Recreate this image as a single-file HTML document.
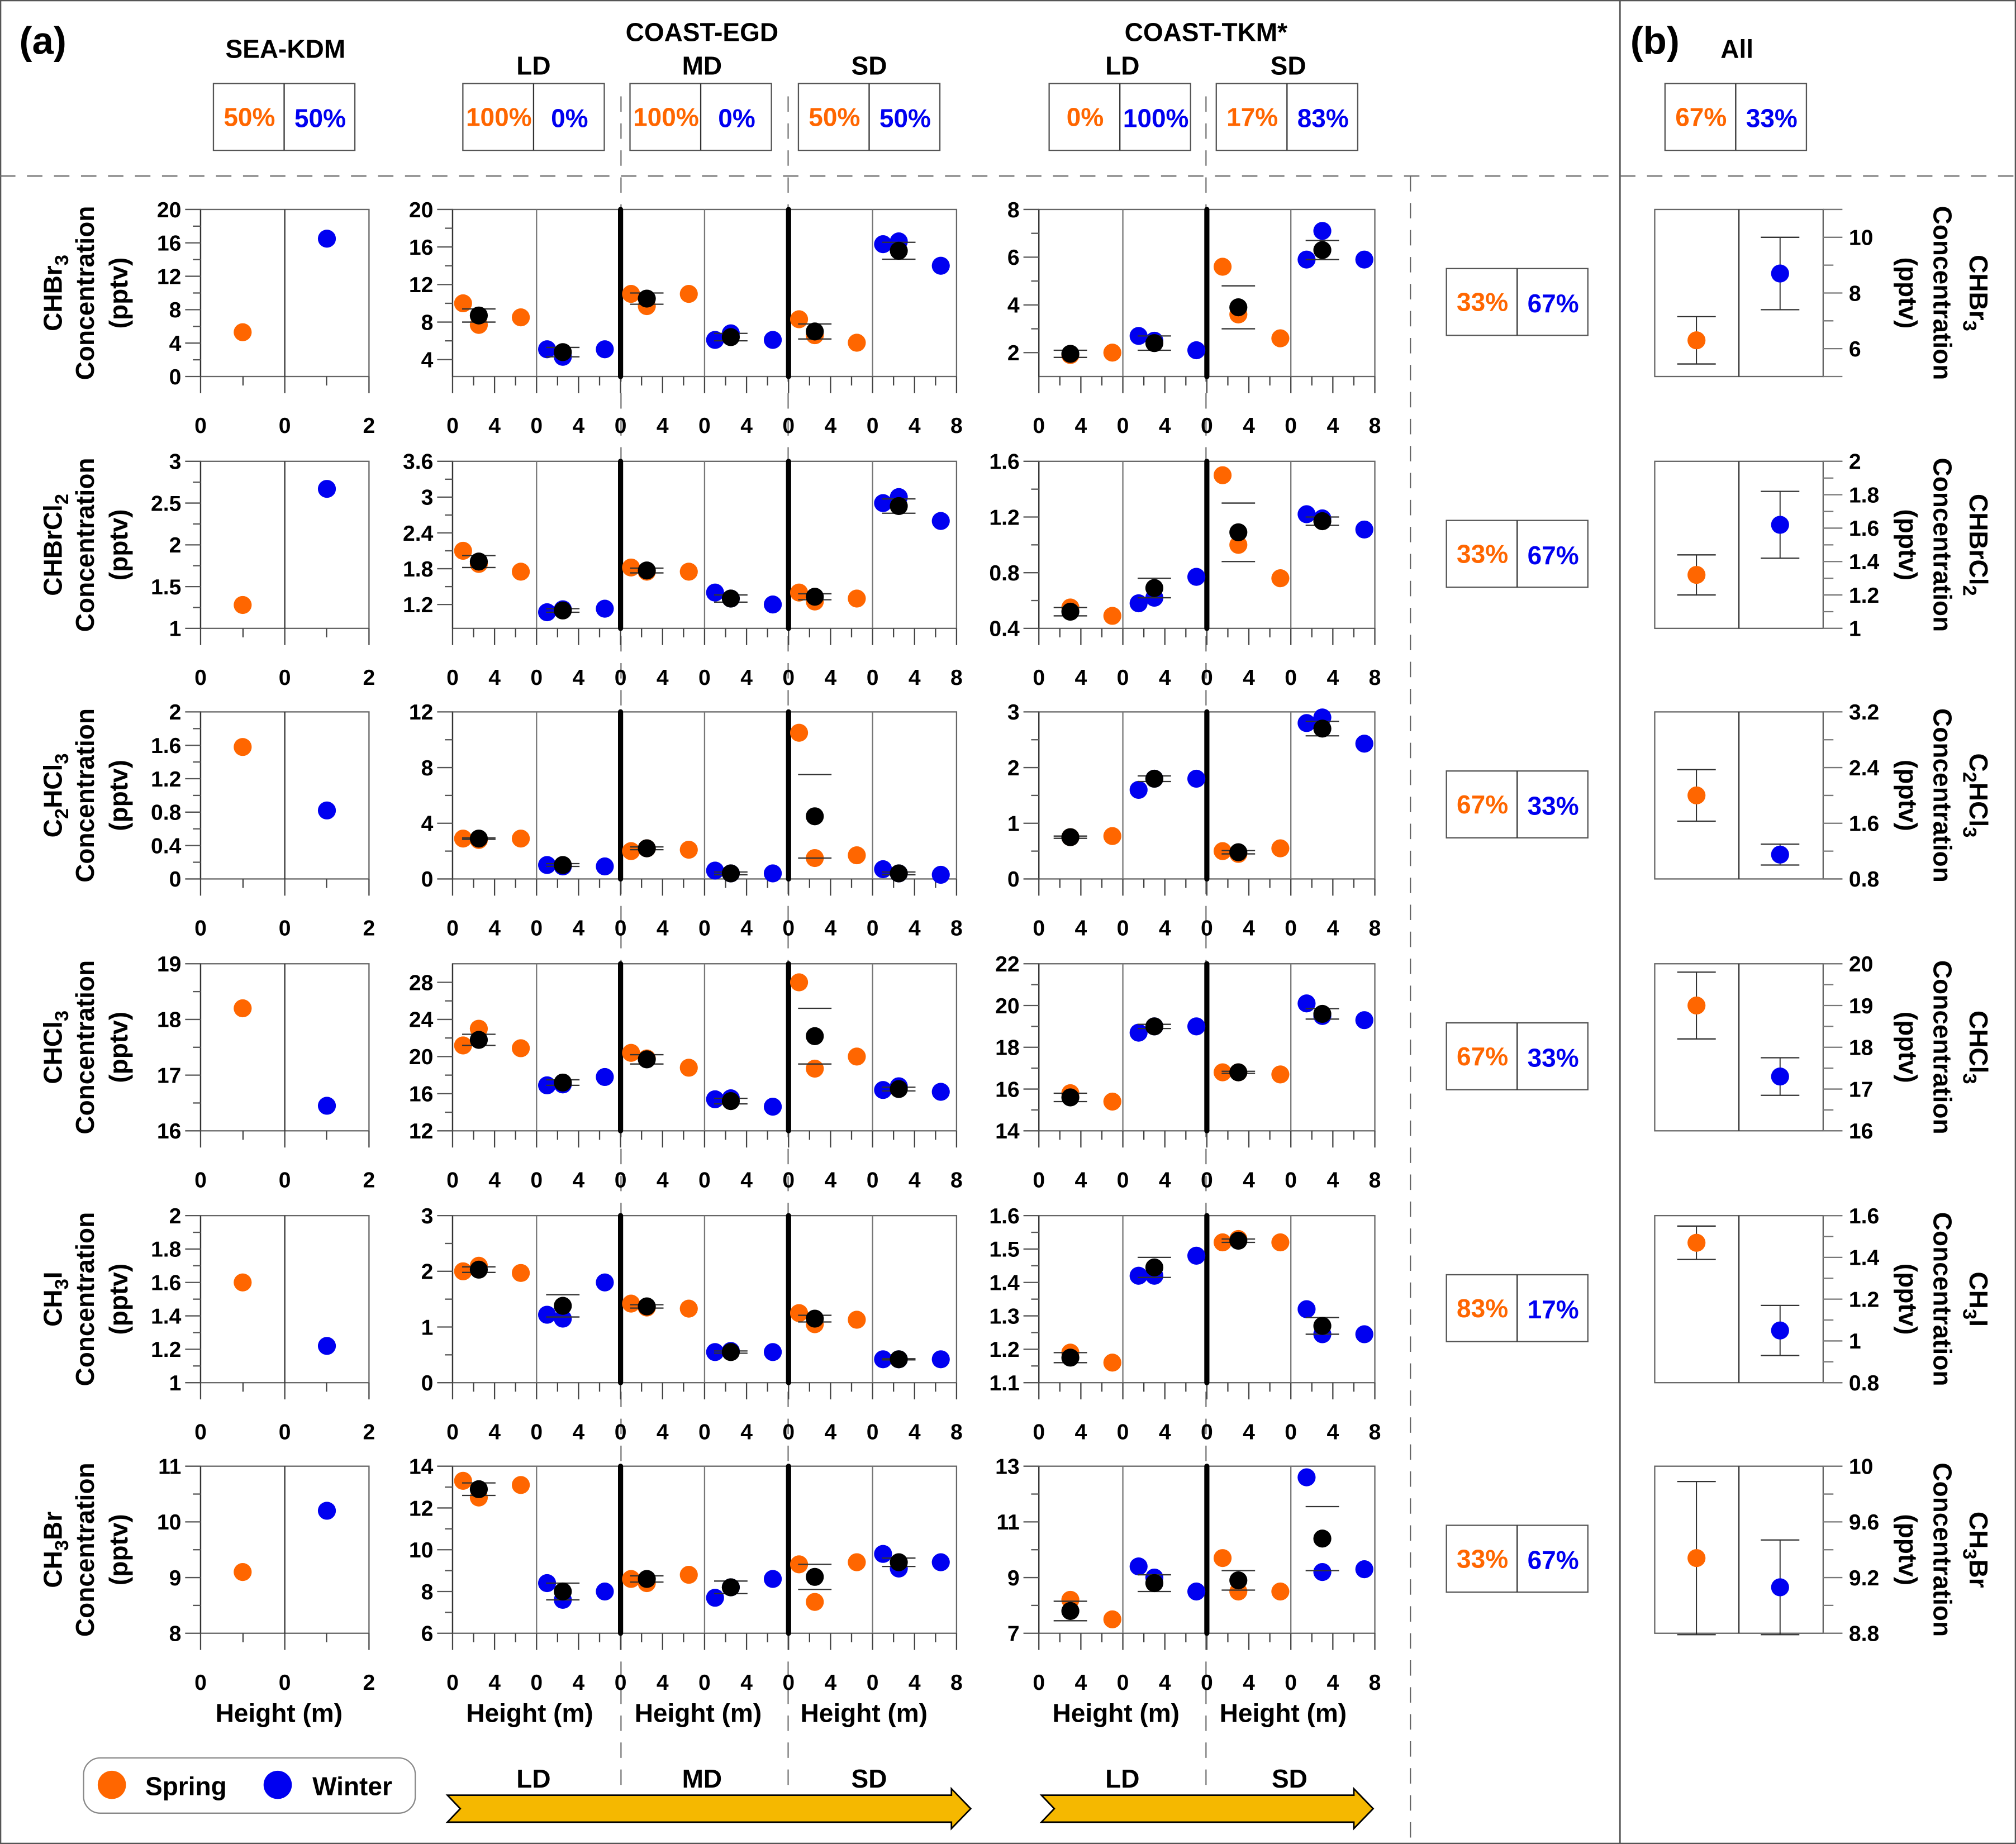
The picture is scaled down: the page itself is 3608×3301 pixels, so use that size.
<!DOCTYPE html>
<html><head><meta charset="utf-8">
<style>
html,body{margin:0;padding:0;background:#fff;}
svg{display:block;font-family:"Liberation Sans",Arial,sans-serif;font-weight:bold;}
</style></head>
<body>
<svg id="fig" width="3608" height="3301" viewBox="0 0 1568 1435" preserveAspectRatio="none" xmlns="http://www.w3.org/2000/svg">
<rect x="0.5" y="0.5" width="1567" height="1434" fill="#fff" stroke="#555" stroke-width="1"/>
<g id="guides"></g>
<g id="header"></g>
<g id="plots"></g>
<g id="bottom"></g>
</svg>
<script>
// ---------- data ----------
const rowNames = ['CHBr3','CHBrCl2','C2HCl3','CHCl3','CH3I','CH3Br'];
const seaSpring = [5.3,1.28,1.58,18.2,1.6,9.1];
const seaWinter = [16.5,2.67,0.82,16.45,1.22,10.2];
const seaRange = [[0,20],[1,3],[0,2],[16,19],[1,2],[8,11]];
const seaTicks = [[0,4,8,12,16,20],[1,1.5,2,2.5,3],[0,0.4,0.8,1.2,1.6,2],[16,17,18,19],[1,1.2,1.4,1.6,1.8,2],[8,9,10,11]];
// EGD sub-panels: LD-spring, LD-winter, MD-spring, MD-winter, SD-spring, SD-winter; heights 1, 2.5, 6.5 m
const egdHeights = [1,2.5,6.5];
const egdVals = [
 [[10,7.7,8.5],[5.1,4.3,5.1],[11,9.7,11],[6.1,6.8,6.1],[8.3,6.6,5.8],[16.3,16.6,14]],
 [[2.1,1.88,1.75],[1.07,1.12,1.13],[1.82,1.75,1.75],[1.4,1.3,1.2],[1.4,1.25,1.3],[2.9,3.0,2.6]],
 [[2.9,2.8,2.9],[1.0,0.9,0.9],[2.0,2.2,2.1],[0.6,0.4,0.4],[10.5,1.5,1.7],[0.7,0.4,0.3]],
 [[21.2,23,20.9],[16.9,17.0,17.8],[20.4,19.8,18.8],[15.4,15.5,14.6],[28,18.7,20],[16.4,16.8,16.2]],
 [[2.0,2.1,1.97],[1.22,1.15,1.8],[1.42,1.35,1.33],[0.55,0.57,0.55],[1.25,1.05,1.13],[0.42,0.42,0.42]],
 [[13.3,12.5,13.1],[8.4,7.6,8.0],[8.6,8.4,8.8],[7.7,8.2,8.6],[9.3,7.5,9.4],[9.8,9.1,9.4]]
];
const egdMean = [[8.7,4.8,10.5,6.4,7.0,15.6],[1.92,1.1,1.77,1.3,1.33,2.85],[2.9,1.0,2.2,0.4,4.5,0.4],[21.8,17.2,19.7,15.2,22.2,16.5],[2.03,1.38,1.37,0.55,1.15,0.42],[12.9,8.0,8.6,8.2,8.7,9.4]];
const egdErr = [[0.7,0.5,0.6,0.4,0.8,0.9],[0.1,0.03,0.04,0.06,0.05,0.12],[0.05,0.1,0.1,0.1,3.0,0.1],[0.6,0.3,0.5,0.3,3.0,0.2],[0.05,0.2,0.03,0.02,0.06,0.01],[0.3,0.4,0.15,0.3,0.6,0.2]];
const egdRange = [[2.2,20],[0.8,3.6],[0,12],[12,30],[0,3],[6,14]];
const egdTicks = [[4,8,12,16,20],[1.2,1.8,2.4,3,3.6],[0,4,8,12],[12,16,20,24,28],[0,1,2,3],[6,8,10,12,14]];
// TKM sub-panels: LD-spring, LD-winter, SD-spring, SD-winter; heights 1.5, 3, 7 m
const tkmHeights = [1.5,3,7];
const tkmVals = [
 [[null,1.9,2.0],[2.7,2.5,2.1],[5.6,3.6,2.6],[5.9,7.1,5.9]],
 [[null,0.55,0.49],[0.58,0.62,0.77],[1.5,1.0,0.76],[1.22,1.19,1.11]],
 [[null,0.75,0.77],[1.6,1.8,1.8],[0.5,0.45,0.55],[2.8,2.9,2.43]],
 [[null,15.8,15.4],[18.7,19.0,19.0],[16.8,16.8,16.7],[20.1,19.5,19.3]],
 [[null,1.19,1.16],[1.42,1.42,1.48],[1.52,1.53,1.52],[1.32,1.245,1.245]],
 [[null,8.2,7.5],[9.4,9.0,8.5],[9.7,8.5,8.5],[12.6,9.2,9.3]]
];
const tkmMean = [[1.95,2.4,3.9,6.3],[0.52,0.69,1.09,1.17],[0.75,1.8,0.48,2.7],[15.6,19.0,16.8,19.6],[1.175,1.445,1.525,1.27],[7.8,8.8,8.9,10.4]];
const tkmErr = [[0.15,0.3,0.9,0.4],[0.03,0.07,0.21,0.03],[0.02,0.05,0.03,0.13],[0.2,0.1,0.05,0.25],[0.015,0.03,0.005,0.025],[0.35,0.3,0.35,1.15]];
const tkmRange = [[1,8],[0.4,1.6],[0,3],[14,22],[1.1,1.6],[7,13]];
const tkmTicks = [[2,4,6,8],[0.4,0.8,1.2,1.6],[0,1,2,3],[14,16,18,20,22],[1.1,1.2,1.3,1.4,1.5,1.6],[7,9,11,13]];
// (b) All
const allSpring = [6.3,1.32,2.0,19.0,1.47,9.34];
const allSpringErr = [0.85,0.12,0.37,0.8,0.08,0.55];
const allWinter = [8.7,1.62,1.15,17.3,1.05,9.13];
const allWinterErr = [1.3,0.2,0.15,0.45,0.12,0.34];
const allRange = [[5,11],[1,2],[0.8,3.2],[16,20],[0.8,1.6],[8.8,10]];
const allTicks = [[6,8,10],[1,1.2,1.4,1.6,1.8,2],[0.8,1.6,2.4,3.2],[16,17,18,19,20],[0.8,1,1.2,1.4,1.6],[8.8,9.2,9.6,10]];
const pctSpring = ['33%','33%','67%','67%','83%','33%'];
const pctWinter = ['67%','67%','33%','33%','17%','67%'];
const headPctSpring = ['50%','100%','100%','50%','0%','17%','67%'];
const headPctWinter = ['50%','0%','0%','50%','100%','83%','33%'];

// ---------- layout ----------
const NS='http://www.w3.org/2000/svg';
const ORANGE='#ff6600', BLUE='#0000f0';
const rowTops=[163,359,554,750,946,1141], PH=130, SUBW=65.33;
function el(tag,attrs,parent,text){const e=document.createElementNS(NS,tag);for(const k in attrs)e.setAttribute(k,attrs[k]);if(text!==undefined)e.textContent=text;parent.appendChild(e);return e;}
const guides=document.getElementById('guides'),header=document.getElementById('header'),plots=document.getElementById('plots'),bottom=document.getElementById('bottom');
function yS(range,top){return v=>top+PH-(v-range[0])/(range[1]-range[0])*PH;}
function chem(parent,name,attrs){
  const t=el('text',attrs,parent);
  const parts=name.match(/[A-Za-z]+|\d+/g);
  parts.forEach(p=>{ if(/\d/.test(p)){ el('tspan',{'font-size':'15','dy':'5'},t,p); el('tspan',{'dy':'-5'},t,'\u200b'); } else el('tspan',{},t,p); });
  return t;
}
function fmt(v){return String(+v.toFixed(2));}

// guides
el('line',{x1:1260,y1:0,x2:1260,y2:1435,stroke:'#555','stroke-width':1.2},guides);
el('line',{x1:0,y1:137,x2:1568,y2:137,stroke:'#666','stroke-width':1,'stroke-dasharray':'12,9'},guides);
el('line',{x1:1097,y1:137,x2:1097,y2:1435,stroke:'#666','stroke-width':1,'stroke-dasharray':'12,9'},guides);
[483,613,938].forEach(x=>el('line',{x1:x,y1:75,x2:x,y2:1395,stroke:'#777','stroke-width':1,'stroke-dasharray':'12,9'},guides));

// header
el('text',{x:15,y:42,'font-size':30},header,'(a)');
el('text',{x:1268,y:42,'font-size':30},header,'(b)');
const heads=[[222,45,'SEA-KDM'],[546,32,'COAST-EGD'],[415,58,'LD'],[546,58,'MD'],[676,58,'SD'],[938,32,'COAST-TKM*'],[873,58,'LD'],[1002,58,'SD'],[1351,45,'All']];
heads.forEach(h=>{const t=el('text',{x:h[0],y:h[1],'font-size':20,'text-anchor':'middle'},header,h[2]);});
function pctBox(parent,x,cy,s,w,name){
  const g=el('g',{},parent);
  
  
  el('rect',{x:x,y:cy-26,width:110,height:52,fill:'#fff',stroke:'#555','stroke-width':1},g);
  el('line',{x1:x+55,y1:cy-26,x2:x+55,y2:cy+26,stroke:'#333','stroke-width':1},g);
  el('text',{x:x+28,y:cy+7,'font-size':20,'text-anchor':'middle',fill:ORANGE},g,s);
  el('text',{x:x+83,y:cy+8,'font-size':20,'text-anchor':'middle',fill:BLUE},g,w);
}
const headBoxX=[166,360,490,621,816,946,1295];
headBoxX.forEach((x,i)=>pctBox(header,x,91,headPctSpring[i],headPctWinter[i],'header-percent-box-'+i));
rowTops.forEach((t,i)=>pctBox(plots,1125,t+72,pctSpring[i],pctWinter[i],'row-percent-box-'+(i+1)));

function dot(parent,x,y,c,name){const d=el('ellipse',{cx:x,cy:y,rx:7,ry:7,fill:c},parent);return d;}
function errbar(parent,x,y1,y2,half,showStem){
  if(showStem) el('line',{x1:x,y1:y1,x2:x,y2:y2,stroke:'#222','stroke-width':0.8},parent);
  el('line',{x1:x-half,y1:y1,x2:x+half,y2:y1,stroke:'#333','stroke-width':1},parent);
  el('line',{x1:x-half,y1:y2,x2:x+half,y2:y2,stroke:'#333','stroke-width':1},parent);
}
function yAxisLeft(g,x,ys,ticks,range){
  el('line',{x1:x,y1:ys(range[1]),x2:x,y2:ys(range[0]),stroke:'#333','stroke-width':1},g);
  ticks.forEach((v,k)=>{const y=ys(v);el('line',{x1:x-12,y1:y,x2:x,y2:y,stroke:'#555','stroke-width':1},g);
    const tl=el('text',{x:x-15,y:y+6,'font-size':17,'text-anchor':'end'},g,fmt(v));
    
    if(k<ticks.length-1){const m=ys((v+ticks[k+1])/2);el('line',{x1:x-6,y1:m,x2:x,y2:m,stroke:'#555','stroke-width':1},g);} });
}
function frame(g,x0,x1,top){
  el('rect',{x:x0,y:top,width:x1-x0,height:PH,fill:'#fff',stroke:'#666','stroke-width':1},g);
}
function xTicks(g,x0,nSub,labels,top){
  const yb=top+PH;
  for(let k=0;k<=nSub*4;k++){const x=x0+k*SUBW/4;const major=k%2===0;el('line',{x1:x,y1:yb,x2:x,y2:yb+(major?13:7),stroke:'#444','stroke-width':1},g);}
  labels.forEach(l=>{const t=el('text',{x:l[0],y:yb+44,'font-size':17,'text-anchor':'middle'},g,l[1]);});
}

rowTops.forEach((top,r)=>{
  const g=el('g',{},plots);
  
  
  // y label left
  const lg=el('g',{transform:`translate(48,${top+PH/2}) rotate(-90)`},g);
  
  chem(lg,rowNames[r],{x:0,y:0,'font-size':20,'text-anchor':'middle'});
  el('text',{x:0,y:25,'font-size':20,'text-anchor':'middle'},lg,'Concentration');
  el('text',{x:0,y:51,'font-size':20,'text-anchor':'middle'},lg,'(pptv)');
  // SEA
  {const x0=156,x1=287,ys=yS(seaRange[r],top);frame(g,x0,x1,top);
   el('line',{x1:221.5,y1:top,x2:221.5,y2:top+PH,stroke:'#333','stroke-width':1},g);
   yAxisLeft(g,x0,ys,seaTicks[r],seaRange[r]);
   const yb=top+PH;[[156,13],[189,7],[221.5,13],[254,7],[287,13]].forEach(a=>el('line',{x1:a[0],y1:yb,x2:a[0],y2:yb+a[1],stroke:'#444','stroke-width':1},g));
   [[156,'0'],[221.5,'0'],[287,'2']].forEach(l=>el('text',{x:l[0],y:yb+44,'font-size':17,'text-anchor':'middle'},g,l[1]));
   const xs=(sub,h)=>x0+sub*65.5+h/2*65.5;
   dot(g,xs(0,1),ys(seaSpring[r]),ORANGE,'sea-spring-point');
   dot(g,xs(1,1),ys(seaWinter[r]),BLUE,'sea-winter-point');
  }
  // EGD
  {const x0=352,ys=yS(egdRange[r],top);frame(g,x0,x0+6*SUBW,top);
   for(let s=1;s<6;s++){const x=x0+s*SUBW;if(s===2||s===4)continue;el('line',{x1:x,y1:top,x2:x,y2:top+PH,stroke:'#777','stroke-width':1},g);}
   yAxisLeft(g,x0,ys,egdTicks[r],egdRange[r]);
   const labs=[];for(let s=0;s<6;s++){labs.push([x0+s*SUBW,'0']);labs.push([x0+s*SUBW+SUBW/2,'4']);}labs.push([x0+6*SUBW,'8']);
   xTicks(g,x0,6,labs,top);
   [2,4].forEach(s=>{const x=x0+s*SUBW;el('line',{x1:x,y1:top,x2:x,y2:top+PH,stroke:'#000','stroke-width':4,'stroke-linecap':'round'},g);});
   const xs=(sub,h)=>x0+sub*SUBW+h/8*SUBW;
   for(let s=0;s<6;s++){const c=s%2===0?ORANGE:BLUE;
     egdVals[r][s].forEach((v,k)=>{if(v!==null)dot(g,xs(s,egdHeights[k]),ys(v),c,(s%2===0?'egd-spring-point':'egd-winter-point'));});
     const mx=xs(s,egdHeights[1]);errbar(g,mx,ys(egdMean[r][s]+egdErr[r][s]),ys(egdMean[r][s]-egdErr[r][s]),13,false);
     dot(g,mx,ys(egdMean[r][s]),'#000','egd-mean-point');}
  }
  // TKM
  {const x0=808,ys=yS(tkmRange[r],top);frame(g,x0,x0+4*SUBW,top);
   [1,3].forEach(s=>{const x=x0+s*SUBW;el('line',{x1:x,y1:top,x2:x,y2:top+PH,stroke:'#777','stroke-width':1},g);});
   yAxisLeft(g,x0,ys,tkmTicks[r],tkmRange[r]);
   const labs=[];for(let s=0;s<4;s++){labs.push([x0+s*SUBW,'0']);labs.push([x0+s*SUBW+SUBW/2,'4']);}labs.push([x0+4*SUBW,'8']);
   xTicks(g,x0,4,labs,top);
   {const x=x0+2*SUBW;el('line',{x1:x,y1:top,x2:x,y2:top+PH,stroke:'#000','stroke-width':4,'stroke-linecap':'round'},g);}
   const xs=(sub,h)=>x0+sub*SUBW+h/8*SUBW;
   for(let s=0;s<4;s++){const c=s%2===0?ORANGE:BLUE;
     tkmVals[r][s].forEach((v,k)=>{if(v!==null)dot(g,xs(s,tkmHeights[k]),ys(v),c,(s%2===0?'tkm-spring-point':'tkm-winter-point'));});
     const mx=xs(s,tkmHeights[1]);errbar(g,mx,ys(tkmMean[r][s]+tkmErr[r][s]),ys(tkmMean[r][s]-tkmErr[r][s]),13,false);
     dot(g,mx,ys(tkmMean[r][s]),'#000','tkm-mean-point');}
  }
  // All (b)
  {const x0=1287,x1=1418,ys=yS(allRange[r],top);frame(g,x0,x1,top);
   el('line',{x1:1352.5,y1:top,x2:1352.5,y2:top+PH,stroke:'#333','stroke-width':1},g);
   el('line',{x1:x1,y1:top,x2:x1+15,y2:top,stroke:'#777','stroke-width':1},g);
   el('line',{x1:x1,y1:top+PH,x2:x1+15,y2:top+PH,stroke:'#777','stroke-width':1},g);
   const tk=allTicks[r];
   tk.forEach((v,k)=>{const y=ys(v);el('line',{x1:x1,y1:y,x2:x1+15,y2:y,stroke:'#777','stroke-width':1},g);
     const tl=el('text',{x:x1+20,y:y+6,'font-size':17},g,fmt(v));
     if(k<tk.length-1){const m=ys((v+tk[k+1])/2);el('line',{x1:x1,y1:m,x2:x1+8,y2:m,stroke:'#777','stroke-width':1},g);}});
   errbar(g,1319.5,ys(allSpring[r]+allSpringErr[r]),ys(allSpring[r]-allSpringErr[r]),15,true);
   errbar(g,1384.5,ys(allWinter[r]+allWinterErr[r]),ys(allWinter[r]-allWinterErr[r]),15,true);
   dot(g,1319.5,ys(allSpring[r]),ORANGE,'all-spring-point');
   dot(g,1384.5,ys(allWinter[r]),BLUE,'all-winter-point');
   const rg=el('g',{transform:`translate(1532,${top+PH/2}) rotate(90)`},g);
   
   chem(rg,rowNames[r],{x:0,y:0,'font-size':20,'text-anchor':'middle'});
   el('text',{x:0,y:28,'font-size':20,'text-anchor':'middle'},rg,'Concentration');
   el('text',{x:0,y:55,'font-size':20,'text-anchor':'middle'},rg,'(pptv)');
  }
});

// bottom: x-axis titles
[[217,'xt-sea'],[412,'xt-egd-ld'],[543,'xt-egd-md'],[672,'xt-egd-sd'],[868,'xt-tkm-ld'],[998,'xt-tkm-sd']].forEach(a=>{
  const t=el('text',{x:a[0],y:1340,'font-size':20,'text-anchor':'middle'},bottom,'Height (m)');
  
  
});
// legend
const lg=el('g',{},bottom);


el('rect',{x:65,y:1368,width:258,height:43,rx:13,fill:'#fff',stroke:'#888','stroke-width':1},lg);
el('circle',{cx:87,cy:1389,r:11,fill:ORANGE},lg);
el('text',{x:113,y:1397,'font-size':20},lg,'Spring');
el('circle',{cx:216,cy:1389,r:11,fill:BLUE},lg);
el('text',{x:243,y:1397,'font-size':20},lg,'Winter');
// arrows
function arrow(x0,x1,name){
  const p=el('polygon',{points:`${x0},1397 ${x1-15},1397 ${x1-15},1392 ${x1},1407.5 ${x1-15},1423 ${x1-15},1418 ${x0},1418 ${x0+10},1407.5`,fill:'#f5b800',stroke:'#000','stroke-width':1.2},bottom);
  
  
}
arrow(348,755,'egd-distance-arrow');
arrow(810,1068,'tkm-distance-arrow');
[[415,'LD'],[546,'MD'],[676,'SD'],[873,'LD'],[1003,'SD']].forEach(a=>{
  const t=el('text',{x:a[0],y:1391,'font-size':20,'text-anchor':'middle'},bottom,a[1]);
  
});
</script>
</body></html>
